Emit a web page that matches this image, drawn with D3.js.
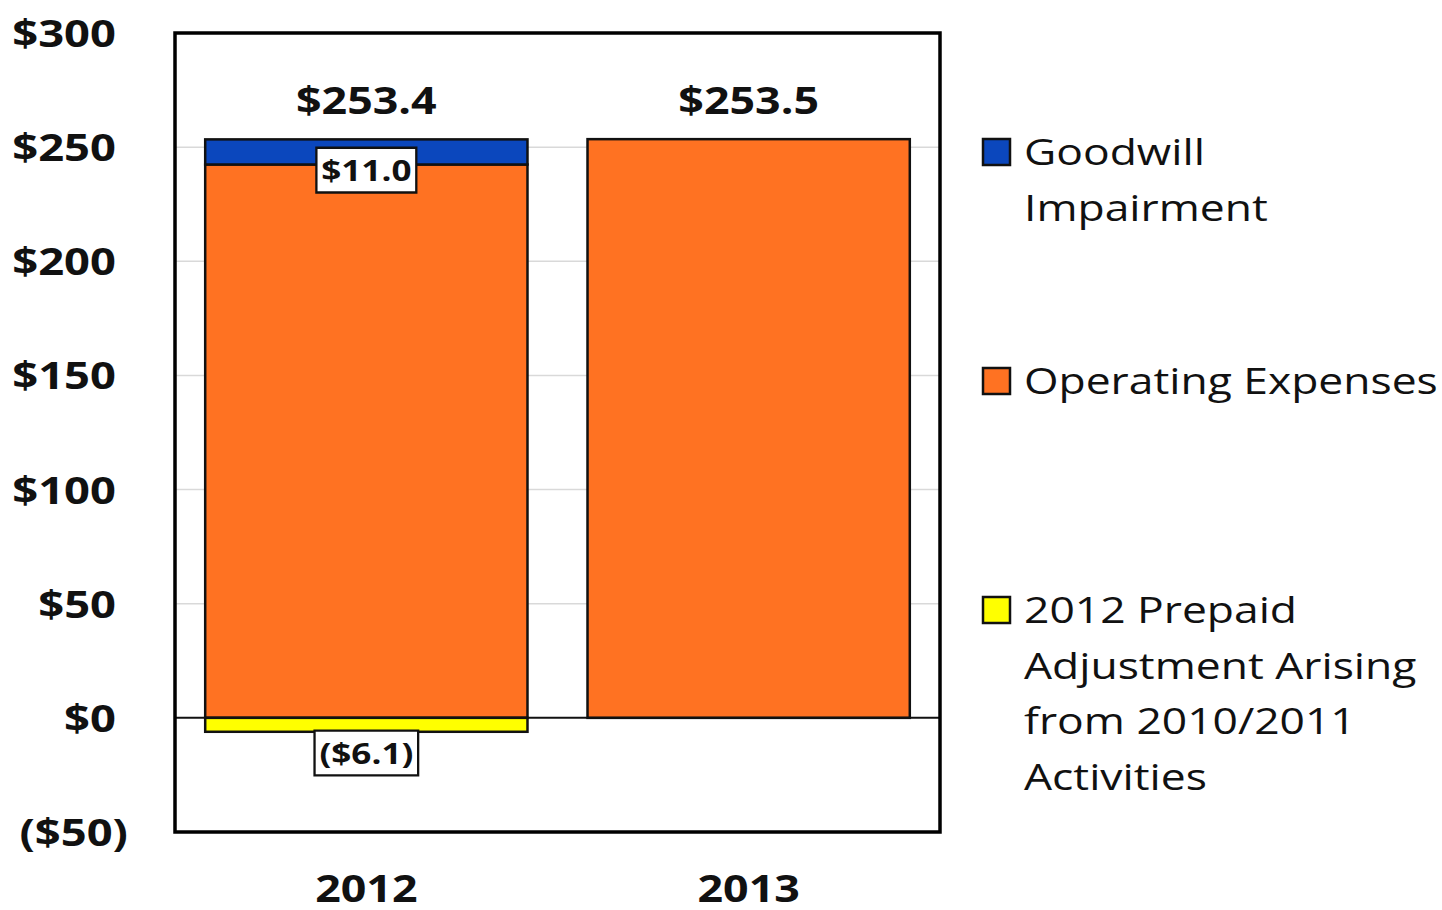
<!DOCTYPE html>
<html>
<head>
<meta charset="utf-8">
<script src="https://cdn.jsdelivr.net/npm/d3@7"></script>
<style>
  html, body { margin: 0; padding: 0; background: #fff; }
  svg { display: block; }
  text { font-family: "Open Sans", "DejaVu Sans", sans-serif; fill: #111; }
</style>
</head>
<body>
<svg id="chart" width="1442" height="910"></svg>
<script>
// Fiscal years on the x axis
const years = ["2012", "2013"];

// Stacked components, $ millions
const goodwill  = [11.0, 0];
const operating = [242.4, 253.5];
const prepaid   = [-6.1, 0];

// Totals printed above each bar
const totals = [253.4, 253.5];

// Y ticks
const yTicks = [-50, 0, 50, 100, 150, 200, 250, 300];

// Legend entries (text lines per entry)
const legendKeys = ["goodwill", "operating", "prepaid"];
const legendLines = [
  ["Goodwill", "Impairment"],
  ["Operating Expenses"],
  ["2012 Prepaid", "Adjustment Arising", "from 2010/2011", "Activities"]
];

const colors = { goodwill: "#0b47bd", operating: "#ff7222", prepaid: "#ffff00" };

// Text is set in a horizontally widened face
const STRETCH = 1.21;
const place = (px, py, s = STRETCH) => `translate(${px},${py}) scale(${s},1)`;

const svg = d3.select("#chart");
const plot = { left: 175, right: 940, top: 33, bottom: 832 };

const x = d3.scaleBand().domain(years).range([plot.left, plot.right]).paddingInner(0.157).paddingOuter(0.079);
const y = d3.scaleLinear().domain([-50, 300]).range([plot.bottom, plot.top]);

const fmt = v => v < 0 ? `($${Math.abs(v).toFixed(0)})` : `$${v.toFixed(0)}`;
const fmt1 = v => v < 0 ? `($${Math.abs(v).toFixed(1)})` : `$${v.toFixed(1)}`;

// Gridlines
svg.append("g")
  .selectAll("line")
  .data(yTicks.filter(t => t > 0 && t < 300))
  .join("line")
  .attr("x1", plot.left).attr("x2", plot.right)
  .attr("y1", d => y(d)).attr("y2", d => y(d))
  .attr("stroke", "#d9d9d9").attr("stroke-width", 1.5);

// Y axis labels
const yAxis = d3.axisLeft(y).tickValues(yTicks).tickFormat(fmt).tickSize(0).tickPadding(0);
svg.append("g")
  .attr("transform", "translate(116,0)")
  .call(yAxis)
  .call(g => g.select(".domain").remove())
  .selectAll("text")
  .attr("font-family", "'Open Sans', sans-serif")
  .attr("font-weight", 700)
  .attr("font-size", 37.5)
  .attr("dy", "0.36em")
  .attr("fill", "#111")
  .attr("x", 0)
  .attr("transform", d => place(d < 0 ? 12 : 0, 0));

// X axis labels
const xAxis = d3.axisBottom(x).tickSize(0).tickPadding(0);
svg.append("g")
  .attr("transform", `translate(0,${plot.bottom})`)
  .call(xAxis)
  .call(g => g.select(".domain").remove())
  .selectAll("text")
  .attr("font-family", "'Open Sans', sans-serif")
  .attr("font-weight", 700)
  .attr("font-size", 37)
  .attr("fill", "#111")
  .attr("dy", 0)
  .attr("y", 0)
  .attr("transform", place(0, 70));

// Stacked bars
const segs = [];
years.forEach((yr, i) => {
  segs.push({ yr, key: "operating", y0: 0, y1: operating[i] });
  segs.push({ yr, key: "goodwill", y0: operating[i], y1: operating[i] + goodwill[i] });
  segs.push({ yr, key: "prepaid", y0: prepaid[i], y1: 0 });
});

svg.append("g")
  .selectAll("rect")
  .data(segs.filter(s => s.y1 !== s.y0))
  .join("rect")
  .attr("x", d => x(d.yr))
  .attr("width", x.bandwidth())
  .attr("y", d => y(Math.max(d.y0, d.y1)))
  .attr("height", d => Math.abs(y(d.y0) - y(d.y1)))
  .attr("fill", d => colors[d.key])
  .attr("stroke", "#111")
  .attr("stroke-width", 2.5);

// Zero line
svg.append("line")
  .attr("x1", plot.left).attr("x2", plot.right)
  .attr("y1", y(0)).attr("y2", y(0))
  .attr("stroke", "#111").attr("stroke-width", 2);

// Plot frame
svg.append("rect")
  .attr("x", plot.left).attr("y", plot.top)
  .attr("width", plot.right - plot.left).attr("height", plot.bottom - plot.top)
  .attr("fill", "none").attr("stroke", "#000").attr("stroke-width", 3.5);

// Totals above bars
svg.append("g")
  .selectAll("text")
  .data(years.map((yr, i) => ({ yr, v: totals[i] })))
  .join("text")
  .attr("transform", d => place(x(d.yr) + x.bandwidth() / 2, y(d.v) - 25))
  .attr("text-anchor", "middle")
  .attr("font-weight", 700)
  .attr("font-size", 37)
  .text(d => fmt1(d.v));

// Boxed segment labels
const boxed = [
  { yr: years[0], v: goodwill[0], at: operating[0] + goodwill[0] / 2, dy: 19 },
  { yr: years[0], v: prepaid[0], at: prepaid[0], dy: 22 }
];
const boxG = svg.append("g")
  .selectAll("g")
  .data(boxed)
  .join("g")
  .attr("transform", d => place(x(d.yr) + x.bandwidth() / 2, y(d.at) + d.dy));
boxG.append("text")
  .attr("text-anchor", "middle")
  .attr("dy", "0.36em")
  .attr("font-weight", 700)
  .attr("font-size", 29)
  .text(d => fmt1(d.v));
boxG.each(function () {
  const g = d3.select(this);
  const b = g.select("text").node().getBBox();
  g.insert("rect", "text")
    .attr("x", b.x - 4).attr("y", b.y - 3)
    .attr("width", b.width + 8).attr("height", b.height + 6)
    .attr("fill", "#fff").attr("stroke", "#111").attr("stroke-width", 2.3)
    .attr("vector-effect", "non-scaling-stroke");
});

// Legend
const legendTop = [139, 368, 597];
const lg = svg.append("g")
  .selectAll("g")
  .data(legendKeys.map((k, i) => ({ k, lines: legendLines[i], top: legendTop[i] })))
  .join("g")
  .attr("transform", d => `translate(983,${d.top})`);
lg.append("rect")
  .attr("width", 27).attr("height", 26)
  .attr("fill", d => colors[d.k])
  .attr("stroke", "#111").attr("stroke-width", 2.5);
lg.each(function (d) {
  d3.select(this).selectAll("text")
    .data(d.lines)
    .join("text")
    .attr("transform", (t, j) => place(41, 26 + j * 55.5, 1.2))
    .attr("font-size", 37)
    .attr("font-weight", 400)
    .text(t => t);
});
</script>
</body>
</html>
